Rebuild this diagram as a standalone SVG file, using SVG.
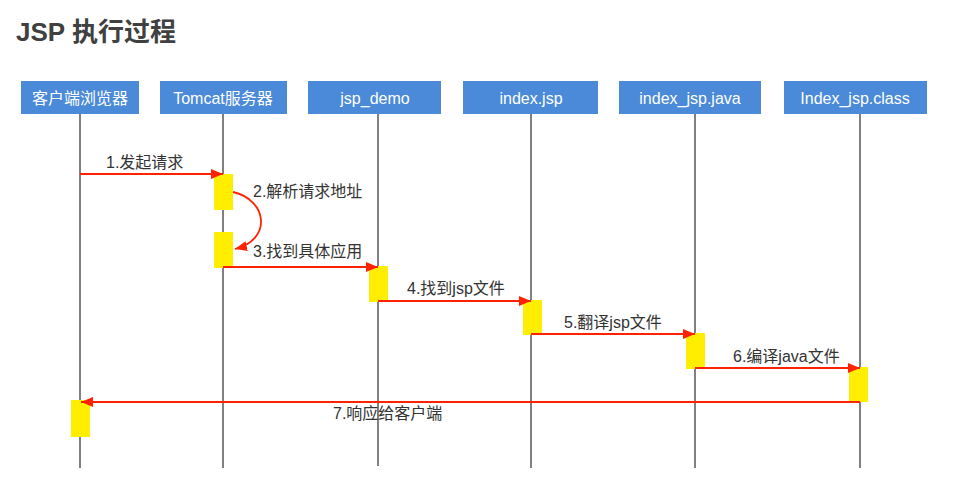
<svg xmlns="http://www.w3.org/2000/svg" width="969" height="479" viewBox="0 0 969 479">
<style>
text{font-family:"Liberation Sans","Noto Sans CJK SC",sans-serif}
.title{font-size:26px;font-weight:bold;fill:#404040}
.box{fill:#4A8AD8}
.bt{font-size:16px;fill:#ffffff;text-anchor:middle}
.life{stroke:#808080;stroke-width:2}
.act{fill:#FFEE00}
.msg{stroke:#FF2200;stroke-width:1.8;fill:none}
.lbl{font-size:16px;fill:#333333}
</style>
<defs>
<marker id="ah" viewBox="0 0 12 10" refX="12" refY="5" markerWidth="12" markerHeight="10" markerUnits="userSpaceOnUse" orient="auto">
<path d="M0,0 L12,5 L0,10 z" fill="#FF2200"/>
</marker>
</defs>
<rect width="969" height="479" fill="#ffffff"/>
<text class="title" x="16" y="41">JSP 执行过程</text>

<g id="client">
<rect class="box" x="21" y="81" width="118" height="33"/>
<text class="bt" x="80" y="104">客户端浏览器</text>
<line class="life" x1="80" y1="114" x2="80" y2="468"/>
<rect class="act" x="71" y="400" width="19" height="37"/>
</g>
<g id="tomcat">
<rect class="box" x="160" y="81" width="127" height="33"/>
<text class="bt" x="223" y="104">Tomcat服务器</text>
<line class="life" x1="223" y1="114" x2="223" y2="468"/>
<rect class="act" x="214" y="174" width="19" height="36"/>
<rect class="act" x="214" y="232" width="19" height="36"/>
</g>
<g id="jsp_demo">
<rect class="box" x="308" y="81" width="133" height="33"/>
<text class="bt" x="375" y="104">jsp_demo</text>
<line class="life" x1="378" y1="114" x2="378" y2="466"/>
<rect class="act" x="369" y="266" width="19" height="36"/>
</g>
<g id="index_jsp">
<rect class="box" x="463" y="81" width="135" height="33"/>
<text class="bt" x="531" y="104">index.jsp</text>
<line class="life" x1="531" y1="114" x2="531" y2="468"/>
<rect class="act" x="523" y="300" width="19" height="35"/>
</g>
<g id="index_jsp_java">
<rect class="box" x="619" y="81" width="142" height="33"/>
<text class="bt" x="690" y="104">index_jsp.java</text>
<line class="life" x1="695" y1="114" x2="695" y2="468"/>
<rect class="act" x="686" y="333" width="19" height="36"/>
</g>
<g id="index_jsp_class">
<rect class="box" x="784" y="81" width="143" height="33"/>
<text class="bt" x="855" y="104">Index_jsp.class</text>
<line class="life" x1="860" y1="114" x2="860" y2="468"/>
<rect class="act" x="849" y="367" width="19" height="35"/>
</g>

<g id="connectors">
<line class="msg" x1="80" y1="174" x2="223" y2="174" marker-end="url(#ah)"/>
<text class="lbl" x="106" y="168">1.发起请求</text>
<path class="msg" d="M233,192 C268,200 272,240 235,249" marker-end="url(#ah)"/>
<text class="lbl" x="253" y="197">2.解析请求地址</text>
<line class="msg" x1="223" y1="267" x2="378" y2="267" marker-end="url(#ah)"/>
<text class="lbl" x="253" y="257">3.找到具体应用</text>
<line class="msg" x1="378" y1="301" x2="531" y2="301" marker-end="url(#ah)"/>
<text class="lbl" x="407" y="294">4.找到jsp文件</text>
<line class="msg" x1="531" y1="334" x2="695" y2="334" marker-end="url(#ah)"/>
<text class="lbl" x="564" y="328">5.翻译jsp文件</text>
<line class="msg" x1="695" y1="368" x2="860" y2="368" marker-end="url(#ah)"/>
<text class="lbl" x="733" y="362">6.编译java文件</text>
<line class="msg" x1="860" y1="402" x2="81" y2="402" marker-end="url(#ah)"/>
<text class="lbl" x="333" y="419">7.响应给客户端</text>
</g>
</svg>
